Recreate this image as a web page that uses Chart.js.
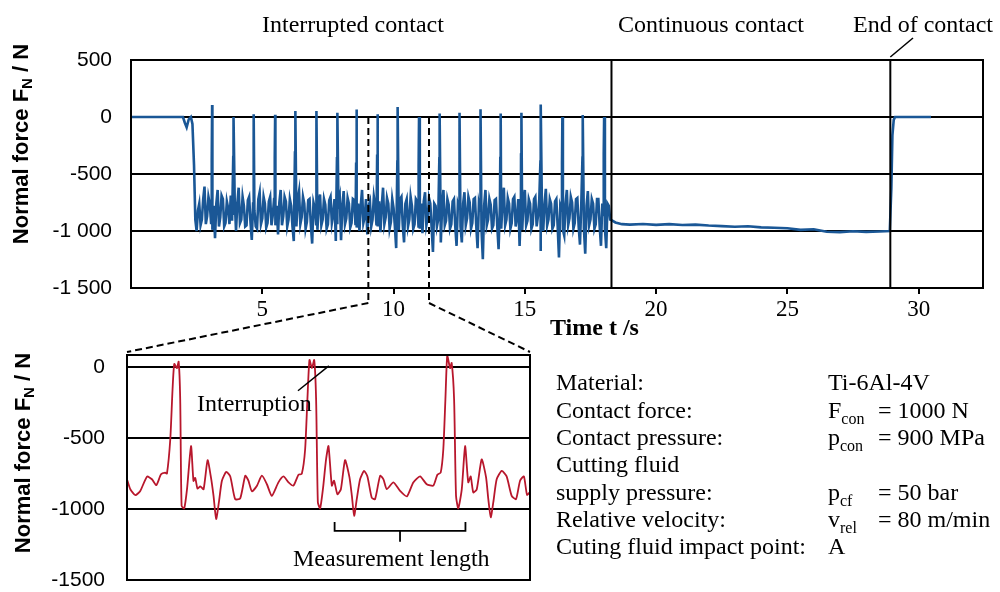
<!DOCTYPE html>
<html>
<head>
<meta charset="utf-8">
<script src="https://cdn.jsdelivr.net/npm/chart.js@4.4.1/dist/chart.umd.min.js"></script>
<style>
  html, body { margin: 0; padding: 0; background: #fff; }
  #wrap { position: relative; width: 1000px; height: 592px; }
  #wrap canvas { position: absolute; left: 0; top: 0; }
</style>
</head>
<body>
<div id="wrap">
  <canvas id="overview" width="1000" height="592"></canvas>
  <canvas id="detail" width="1000" height="592"></canvas>
</div>
<script>
// ---- overview (top) data, time in s, force in N ----
const idleTime  = [0, 1.98, 2.05, 2.12, 2.2, 2.28, 2.34, 2.4, 2.45];
const idleForce = [0, 0, -50, -90, -20, 0, -60, -420, -900];

// interrupted contact: the noisy band between the interruptions
const bandTime = [
  2.5, 2.55, 2.6, 2.65, 2.7, 2.75, 2.8, 2.85, 2.9, 2.95,
  3.0, 3.05, 3.1, 3.15, 3.2, 3.25, 3.3, 3.35, 3.4, 3.45, 3.5, 3.55, 3.6, 3.65, 3.7, 3.75, 3.8, 3.85, 3.9, 3.95,
  4.0, 4.05, 4.1, 4.15, 4.2, 4.25, 4.3, 4.35, 4.4, 4.45, 4.5, 4.55, 4.6, 4.65, 4.7, 4.75, 4.8, 4.85, 4.9, 4.95,
  5.0, 5.05, 5.1, 5.15, 5.2, 5.25, 5.3, 5.35, 5.4, 5.45, 5.5, 5.55, 5.6, 5.65, 5.7, 5.75, 5.8, 5.85, 5.9, 5.95,
  6.0, 6.05, 6.1, 6.15, 6.2, 6.25, 6.3, 6.35, 6.4, 6.45, 6.5, 6.55, 6.6, 6.65, 6.7, 6.75, 6.8, 6.85, 6.9, 6.95,
  7.0, 7.05, 7.1, 7.15, 7.2, 7.25, 7.3, 7.35, 7.4, 7.45, 7.5, 7.55, 7.6, 7.65, 7.7, 7.75, 7.8, 7.85, 7.9, 7.95,
  8.0, 8.05, 8.1, 8.15, 8.2, 8.25, 8.3, 8.35, 8.4, 8.45, 8.5, 8.55, 8.6, 8.65, 8.7, 8.75, 8.8, 8.85, 8.9, 8.95,
  9.0, 9.05, 9.1, 9.15, 9.2, 9.25, 9.3, 9.35, 9.4, 9.45, 9.5, 9.55, 9.6, 9.65, 9.7, 9.75, 9.8, 9.85, 9.9, 9.95,
  10.0, 10.05, 10.1, 10.15, 10.2, 10.25, 10.3, 10.35, 10.4, 10.45, 10.5, 10.55, 10.6, 10.65, 10.7, 10.75, 10.8, 10.85, 10.9, 10.95,
  11.0, 11.05, 11.1, 11.15, 11.2, 11.25, 11.3, 11.35, 11.4, 11.45, 11.5, 11.55, 11.6, 11.65, 11.7, 11.75, 11.8, 11.85, 11.9, 11.95,
  12.0, 12.05, 12.1, 12.15, 12.2, 12.25, 12.3, 12.35, 12.4, 12.45, 12.5, 12.55, 12.6, 12.65, 12.7, 12.75, 12.8, 12.85, 12.9, 12.95,
  13.0, 13.05, 13.1, 13.15, 13.2, 13.25, 13.3, 13.35, 13.4, 13.45, 13.5, 13.55, 13.6, 13.65, 13.7, 13.75, 13.8, 13.85, 13.9, 13.95,
  14.0, 14.05, 14.1, 14.15, 14.2, 14.25, 14.3, 14.35, 14.4, 14.45, 14.5, 14.55, 14.6, 14.65, 14.7, 14.75, 14.8, 14.85, 14.9, 14.95,
  15.0, 15.05, 15.1, 15.15, 15.2, 15.25, 15.3, 15.35, 15.4, 15.45, 15.5, 15.55, 15.6, 15.65, 15.7, 15.75, 15.8, 15.85, 15.9, 15.95,
  16.0, 16.05, 16.1, 16.15, 16.2, 16.25, 16.3, 16.35, 16.4, 16.45, 16.5, 16.55, 16.6, 16.65, 16.7, 16.75, 16.8, 16.85, 16.9, 16.95,
  17.0, 17.05, 17.1, 17.15, 17.2, 17.25, 17.3, 17.35, 17.4, 17.45, 17.5, 17.55, 17.6, 17.65, 17.7, 17.75, 17.8, 17.85, 17.9, 17.95,
  18.0, 18.05, 18.1, 18.15, 18.2, 18.25
];
const bandForce = [
  -1000, -820, -760, -950, -900, -720, -610, -940, -870, -700,
  -760, -930, -990, -780, -1064, -760, -640, -960, -880, -690, -720, -960, -930, -740, -800, -940, -690, -910, -860, -730,
  -1000, -760, -620, -930, -900, -700, -780, -960, -950, -730, -700, -920, -1079, -760, -820, -960, -980, -720, -660, -940,
  -890, -700, -760, -970, -930, -740, -700, -950, -860, -720, -950, -780, -1030, -750, -640, -950, -870, -700, -740, -960,
  -900, -720, -780, -960, -1088, -760, -960, -720, -650, -940, -880, -700, -760, -980, -920, -730, -720, -950, -1110, -750,
  -800, -940, -990, -760, -680, -950, -900, -720, -770, -980, -940, -730, -700, -930, -860, -720, -1088, -930, -760, -700,
  -1080, -780, -650, -940, -890, -710, -760, -970, -930, -720, -730, -950, -970, -760, -1000, -780, -640, -930, -880, -720,
  -1030, -780, -740, -960, -900, -700, -780, -950, -960, -740, -1010, -780, -620, -940, -880, -710, -760, -980, -920, -720,
  -800, -960, -1150, -780, -990, -720, -700, -950, -1100, -760, -720, -960, -900, -700, -780, -980, -940, -720, -740, -960,
  -980, -760, -1020, -740, -660, -950, -890, -710, -760, -970, -1184, -760, -780, -960, -900, -720, -1100, -780, -640, -950,
  -910, -720, -770, -980, -940, -740, -720, -960, -1131, -760, -800, -960, -1100, -760, -660, -950, -890, -700, -750, -980,
  -930, -720, -710, -960, -1150, -760, -820, -990, -1248, -780, -640, -950, -900, -720, -770, -980, -950, -730, -720, -960,
  -1160, -780, -980, -760, -620, -950, -900, -710, -760, -980, -930, -720, -700, -960, -880, -720, -1131, -780, -990, -740,
  -640, -950, -910, -720, -760, -980, -940, -720, -700, -960, -870, -720, -1175, -780, -1000, -760, -630, -950, -900, -720,
  -760, -980, -950, -740, -720, -960, -1233, -780, -820, -990, -1040, -760, -640, -950, -890, -700, -750, -980, -930, -720,
  -710, -960, -1120, -760, -800, -980, -1200, -780, -650, -950, -900, -720, -760, -980, -940, -720, -720, -960, -1130, -760,
  -860, -980, -1150, -760, -780, -900
];

// interruptions: shoulder on the rising edge, then the peak near 0 N
const spikeTime     = [3.09, 3.91, 4.68, 5.49, 6.26, 7.07, 7.86, 8.59, 9.39, 10.16,
                       10.97, 11.76, 12.52, 13.32, 14.08, 14.87, 15.61, 16.43, 17.21, 18.02];
const spikeShoulder = [-380, -340, -420, -360, -300, -450, -350, -400, -330, -380,
                       -420, -350, -300, -400, -360, -330, -380, -410, -350, -330];
const spikePeak     = [105, 0, 24, 20, 53, 53, 38, 66, 24, 88,
                       0, 30, 38, 68, 30, 38, 110, 0, 18, 0];

// continuous contact and end of contact
const contTime  = [18.3, 18.45, 18.7, 19.0, 19.5, 20.0, 20.5, 21.0, 21.5, 22.0, 22.5, 23.0, 23.5, 24.0,
                   24.5, 25.0, 25.5, 26.0, 26.5, 27.0, 27.5, 28.0, 28.5, 28.9, 28.96, 29.0, 29.05, 29.1, 29.4, 30.47];
const contForce = [-905, -925, -940, -944, -938, -946, -940, -948, -944, -952, -957, -963, -958, -968,
                   -972, -976, -990, -985, -1006, -1010, -1002, -1008, -1004, -1000, -620, -160, -25, 0, 0, 0];

const timeTicks = [5, 10, 15, 20, 25, 30];
const forceTicks = [500, 0, -500, -1000, -1500];
const forceTickLabels = ['500', '0', '-500', '-1 000', '-1 500'];

const phaseBounds = [18.3, 28.92];   // end of interrupted / end of contact
const zoomWindow = [9.04, 11.35];    // range shown in the detail plot

// ---- detail (bottom) data, time in s from start of zoom window ----
const zoomTime = [
  0.000, 0.019, 0.048, 0.076, 0.115, 0.143, 0.168, 0.195, 0.219, 0.229,
  0.248, 0.261, 0.271, 0.286, 0.296, 0.305, 0.313, 0.328, 0.344, 0.367,
  0.381, 0.391, 0.404, 0.420, 0.439, 0.462, 0.481, 0.496, 0.511, 0.527,
  0.544, 0.569, 0.592, 0.620, 0.649, 0.678, 0.696, 0.716, 0.745, 0.773,
  0.802, 0.830, 0.868, 0.897, 0.926, 0.954, 0.983, 1.002, 1.021, 1.034,
  1.046, 1.060, 1.073, 1.084, 1.094, 1.107, 1.123, 1.141, 1.155, 1.174,
  1.187, 1.206, 1.226, 1.250, 1.275, 1.289, 1.302, 1.317, 1.336, 1.359,
  1.378, 1.403, 1.422, 1.451, 1.470, 1.489, 1.527, 1.565, 1.604, 1.641,
  1.680, 1.718, 1.756, 1.779, 1.798, 1.813, 1.825, 1.836, 1.852, 1.861,
  1.875, 1.886, 1.899, 1.919, 1.938, 1.956, 1.970, 1.985, 2.005, 2.033,
  2.058, 2.071, 2.085, 2.100, 2.119, 2.148, 2.176, 2.205, 2.230, 2.253,
  2.275, 2.293, 2.310
];
const zoomForce = [
  -790, -860, -902, -872, -771, -790, -832, -755, -743, -750,
  -510, -159, 23, -7, 39, -229, -977, -995, -860, -556,
  -802, -780, -855, -840, -860, -655, -775, -907, -1070, -950,
  -800, -738, -770, -930, -925, -765, -800, -875, -835, -765,
  -825, -907, -812, -770, -812, -835, -758, -751, -580, -229,
  51, -7, 51, -229, -953, -995, -860, -650, -556, -835,
  -800, -895, -860, -655, -775, -907, -1047, -930, -790, -731,
  -770, -920, -930, -765, -790, -860, -812, -872, -911, -812,
  -770, -825, -835, -758, -743, -580, -229, 86, -7, 30,
  -229, -907, -995, -860, -556, -812, -770, -883, -860, -650,
  -775, -930, -1058, -950, -790, -731, -770, -907, -930, -800,
  -770, -900, -880
];
const zoomTicks = [0, -500, -1000, -1500];
const zoomTickLabels = ['0', '-500', '-1000', '-1500'];
const measureWindow = [1.19, 1.94];  // measurement length between interruptions

const paramLabels = ['Material:', 'Contact force:', 'Contact pressure:', 'Cutting fluid',
                     'supply pressure:', 'Relative velocity:', 'Cuting fluid impact point:'];
const paramSymbols = [['Ti-6Al-4V', ''], ['F', 'con'], ['p', 'con'], ['', ''], ['p', 'cf'], ['v', 'rel'], ['A', '']];
const paramValues = ['', '= 1000 N', '= 900 MPa', '', '= 50 bar', '= 80 m/min', ''];

const BLUE = '#1a5796';
const RED = '#b8172c';
const SERIF = '"Liberation Serif", "Times New Roman", serif';
const SANS = '"Liberation Sans", Arial, sans-serif';

function overviewPoints(){
  const pts = [];
  idleTime.forEach((t, i) => pts.push({x: t, y: idleForce[i]}));
  bandTime.forEach((t, i) => pts.push({x: t, y: bandForce[i]}));
  spikeTime.forEach((t, i) => {
    pts.push({x: t - 0.015, y: spikeShoulder[i]});
    pts.push({x: t, y: spikePeak[i]});
  });
  contTime.forEach((t, i) => pts.push({x: t, y: contForce[i]}));
  return pts.sort((a, b) => a.x - b.x);
}

function line(ctx, x1, y1, x2, y2){
  ctx.beginPath(); ctx.moveTo(x1, y1); ctx.lineTo(x2, y2); ctx.stroke();
}

// text made of pieces, some of them subscripts
function richWidth(ctx, parts, size, weight){
  let w = 0;
  parts.forEach(p => {
    ctx.font = weight + ' ' + (p.sub ? Math.round(size * 0.66) : size) + 'px ' + p.family;
    w += ctx.measureText(p.text).width;
  });
  return w;
}
function drawRich(ctx, x, y, parts, size, weight){
  let cx = x;
  parts.forEach(p => {
    ctx.font = weight + ' ' + (p.sub ? Math.round(size * 0.66) : size) + 'px ' + p.family;
    ctx.fillText(p.text, cx, y + (p.sub ? size * 0.25 : 0));
    cx += ctx.measureText(p.text).width;
  });
}
function yTitle(ctx, cx, cy){
  const parts = [{text: 'Normal force F', family: SANS}, {text: 'N', family: SANS, sub: true}, {text: ' / N', family: SANS}];
  ctx.save();
  ctx.translate(cx, cy);
  ctx.rotate(-Math.PI / 2);
  ctx.textBaseline = 'middle';
  ctx.fillStyle = '#000';
  const w = richWidth(ctx, parts, 22, 'bold');
  drawRich(ctx, -w / 2, 0, parts, 22, 'bold');
  ctx.restore();
}

const overviewDecor = {
  id: 'overviewDecor',
  afterDraw(chart){
    const {ctx, chartArea: a, scales: {x, y}} = chart;
    ctx.save();
    ctx.strokeStyle = '#000';
    ctx.lineWidth = 2;
    ctx.strokeRect(a.left, a.top, a.right - a.left, a.bottom - a.top);
    phaseBounds.forEach(t => {
      const px = x.getPixelForValue(t);
      line(ctx, px, a.top, px, a.bottom);
    });
    // zoom window markers
    ctx.setLineDash([7, 4]);
    zoomWindow.forEach(t => {
      const px = x.getPixelForValue(t);
      line(ctx, px, y.getPixelForValue(0), px, a.bottom + 15);
    });
    ctx.setLineDash([]);
    // end-of-contact leader
    ctx.lineWidth = 1.5;
    line(ctx, x.getPixelForValue(phaseBounds[1]), a.top - 3, 913, 38);

    ctx.fillStyle = '#000';
    ctx.textBaseline = 'alphabetic';
    ctx.textAlign = 'left';
    ctx.font = '24px ' + SERIF;
    ctx.fillText('Interrupted contact', 262, 32);
    ctx.fillText('Continuous contact', 618, 32);
    ctx.fillText('End of contact', 853, 32);
    ctx.font = 'bold 24px ' + SERIF;
    ctx.fillText('Time t /s', 550, 335);
    yTitle(ctx, 22, 144);
    ctx.restore();
  }
};

const overview = new Chart(document.getElementById('overview'), {
  type: 'line',
  data: {
    datasets: [{
      data: overviewPoints(),
      borderColor: BLUE,
      borderWidth: 2.6,
      pointRadius: 0,
      tension: 0,
      parsing: false
    }]
  },
  options: {
    responsive: false,
    animation: false,
    devicePixelRatio: 1,
    layout: { padding: { top: 60, left: 0, right: 17, bottom: 264 } },
    plugins: { legend: { display: false }, tooltip: { enabled: false } },
    scales: {
      x: {
        type: 'linear', min: 0, max: 32.45,
        afterBuildTicks: s => { s.ticks = timeTicks.map(v => ({value: v})); },
        afterFit: s => { s.height = 40; },
        ticks: { color: '#000', font: { family: SERIF, size: 23 }, padding: 2, maxRotation: 0 },
        grid: { drawOnChartArea: false, drawTicks: true, tickLength: 6, color: '#000', lineWidth: 2 },
        border: { display: true, color: '#000', width: 2 }
      },
      y: {
        min: -1500, max: 500,
        afterBuildTicks: s => { s.ticks = forceTicks.map(v => ({value: v})); },
        afterFit: s => { s.width = 131; s.paddingTop = 0; s.paddingBottom = 0; },
        ticks: {
          color: '#000', font: { family: SANS, size: 21 }, padding: 19,
          callback: v => forceTickLabels[forceTicks.indexOf(v)]
        },
        grid: { drawTicks: false, color: '#000', lineWidth: 2 },
        border: { display: true, color: '#000', width: 2 }
      }
    }
  },
  plugins: [overviewDecor]
});

const detailDecor = {
  id: 'detailDecor',
  afterDraw(chart){
    const {ctx, chartArea: a, scales: {x, y}} = chart;
    const top = overview.scales;
    ctx.save();
    ctx.strokeStyle = '#000';
    ctx.lineWidth = 2;
    ctx.strokeRect(a.left, a.top, a.right - a.left, a.bottom - a.top);
    // connectors from the zoom window
    const yStart = overview.chartArea.bottom + 15;
    ctx.setLineDash([7, 4]);
    line(ctx, top.x.getPixelForValue(zoomWindow[0]), yStart, a.left, a.top - 3);
    line(ctx, top.x.getPixelForValue(zoomWindow[1]), yStart, a.right, a.top - 3);
    ctx.setLineDash([]);

    // measurement length bracket
    ctx.lineWidth = 1.8;
    const bx1 = x.getPixelForValue(measureWindow[0]);
    const bx2 = x.getPixelForValue(measureWindow[1]);
    const by = y.getPixelForValue(-1154);
    const byTop = y.getPixelForValue(-1091);
    ctx.beginPath();
    ctx.moveTo(bx1, byTop); ctx.lineTo(bx1, by); ctx.lineTo(bx2, by); ctx.lineTo(bx2, byTop);
    ctx.stroke();
    const bm = x.getPixelForValue((measureWindow[0] + measureWindow[1]) / 2);
    line(ctx, bm, by, bm, y.getPixelForValue(-1231));

    // interruption leader
    ctx.lineWidth = 1.5;
    line(ctx, x.getPixelForValue(0.98), y.getPixelForValue(-166), x.getPixelForValue(1.157), y.getPixelForValue(9));

    ctx.fillStyle = '#000';
    ctx.textAlign = 'left';
    ctx.textBaseline = 'alphabetic';
    ctx.font = '24px ' + SERIF;
    ctx.fillText('Interruption', 197, 411);
    ctx.fillText('Measurement length', 293, 566);

    // parameter block
    const rows = [390, 418, 445, 472, 500, 527, 554];
    paramLabels.forEach((lab, i) => {
      ctx.font = '24px ' + SERIF;
      ctx.fillText(lab, 556, rows[i]);
      const sym = paramSymbols[i];
      if (sym[0]) drawRich(ctx, 828, rows[i], [{text: sym[0], family: SERIF}, {text: sym[1], family: SERIF, sub: true}], 24, '');
      if (paramValues[i]) { ctx.font = '24px ' + SERIF; ctx.fillText(paramValues[i], 878, rows[i]); }
    });

    yTitle(ctx, 24, 453);
    ctx.restore();
  }
};

new Chart(document.getElementById('detail'), {
  type: 'line',
  data: {
    datasets: [{
      data: zoomTime.map((t, i) => ({x: t, y: zoomForce[i]})),
      borderColor: RED,
      borderWidth: 1.8,
      pointRadius: 0,
      tension: 0.2,
      parsing: false
    }]
  },
  options: {
    responsive: false,
    animation: false,
    devicePixelRatio: 1,
    layout: { padding: { top: 355, left: 0, right: 470, bottom: 12 } },
    plugins: { legend: { display: false }, tooltip: { enabled: false } },
    scales: {
      x: {
        type: 'linear', min: 0, max: 2.31,
        afterFit: s => { s.height = 0; s.paddingLeft = 0; s.paddingRight = 0; },
        ticks: { display: false },
        grid: { display: false },
        border: { display: false }
      },
      y: {
        min: -1500, max: 86,
        afterBuildTicks: s => { s.ticks = zoomTicks.map(v => ({value: v})); },
        afterFit: s => { s.width = 127; s.paddingTop = 0; s.paddingBottom = 0; },
        ticks: {
          color: '#000', font: { family: SANS, size: 21 }, padding: 22,
          callback: v => zoomTickLabels[zoomTicks.indexOf(v)]
        },
        grid: { drawTicks: false, color: '#000', lineWidth: 2 },
        border: { display: true, color: '#000', width: 2 }
      }
    }
  },
  plugins: [detailDecor]
});
</script>
</body>
</html>
